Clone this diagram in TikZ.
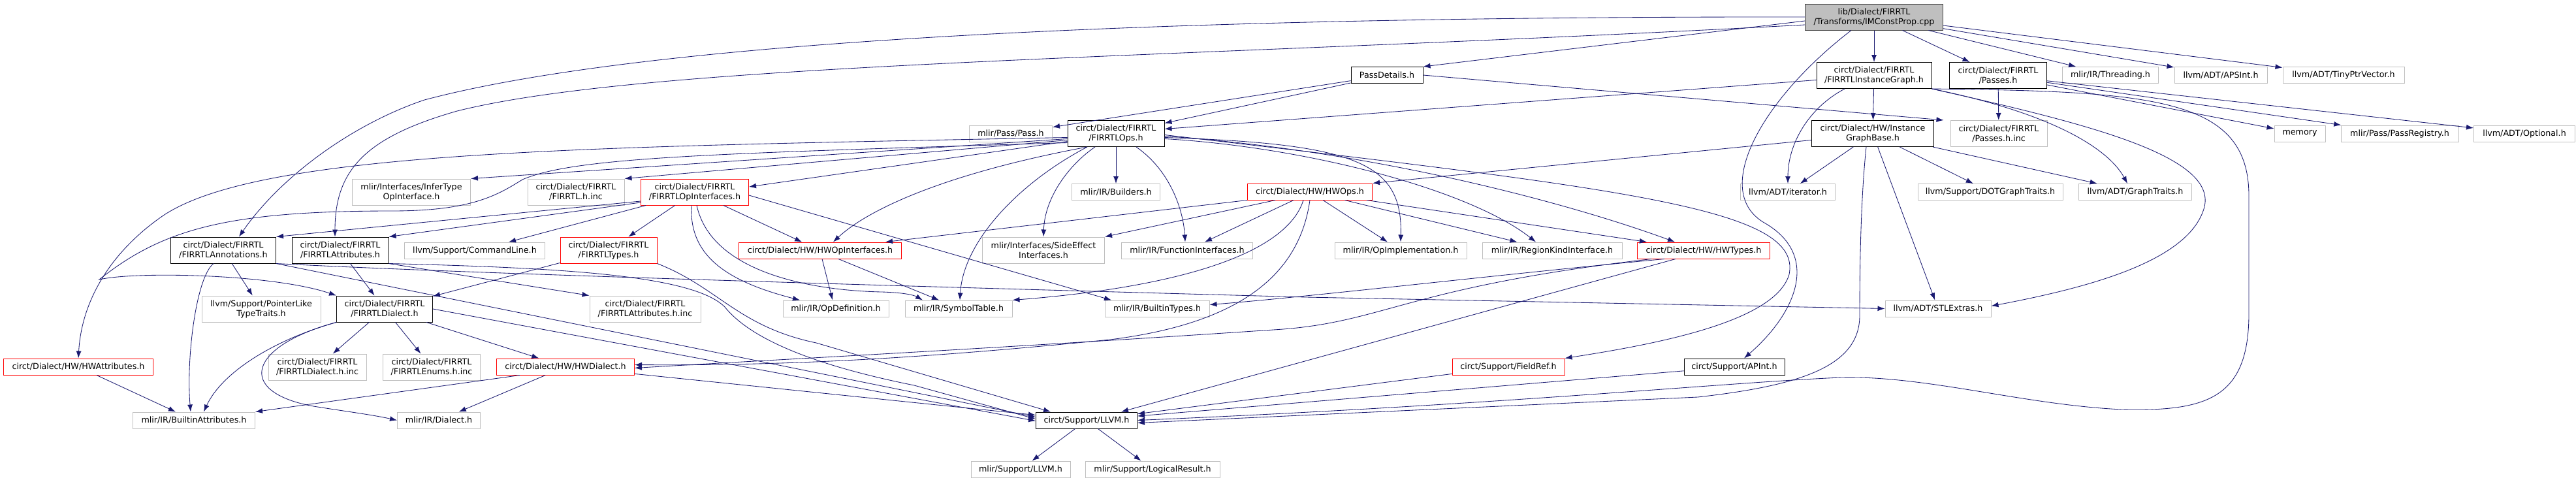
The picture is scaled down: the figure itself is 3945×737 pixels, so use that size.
\documentclass[tikz,border=0pt]{standalone}
\usepackage{fontspec}
\setmainfont{DejaVu Sans}
\usetikzlibrary{arrows.meta}
\definecolor{edgeblue}{HTML}{191970}
\definecolor{extgray}{HTML}{BFBFBF}
\definecolor{rootgray}{HTML}{404040}
\definecolor{truncred}{HTML}{FF0000}
\newcommand{\graphfont}{\fontsize{12.7}{15}\selectfont}
\tikzset{
  filebox/.style={draw, rectangle, inner sep=0pt, align=center, line width=1pt, font=\graphfont, minimum height=25pt},
  twolines/.style={minimum height=40pt},
  extbox/.style={filebox, draw=extgray},
  docbox/.style={filebox, draw=black},
  redbox/.style={filebox, draw=truncred},
  rootbox/.style={filebox, draw=rootgray, fill=extgray},
  dep/.style={-{Latex[length=11pt,width=8pt]}, draw=edgeblue, line width=0.85pt},
}
\begin{document}
\begin{tikzpicture}[x=1pt,y=-1pt]
\useasboundingbox (0,0) rectangle (3945,737);

\node[rootbox,twolines,minimum width=211pt] (root) at (2870,26) {lib/Dialect/FIRRTL\\/Transforms/IMConstProp.cpp};

\node[docbox,minimum width=110pt] (passdetails) at (2124,115) {PassDetails.h};
\node[docbox,twolines,minimum width=176pt] (igraph) at (2870,115.5) {circt/Dialect/FIRRTL\\/FIRRTLInstanceGraph.h};
\node[docbox,twolines,minimum width=149pt] (passes) at (3060,115.5) {circt/Dialect/FIRRTL\\/Passes.h};
\node[extbox,minimum width=147pt] (threading) at (3232,115) {mlir/IR/Threading.h};
\node[extbox,minimum width=142pt] (apsint) at (3401,115) {llvm/ADT/APSInt.h};
\node[extbox,minimum width=186pt] (tinyptr) at (3589,115) {llvm/ADT/TinyPtrVector.h};

\node[extbox,minimum width=127pt] (passh) at (1548,204.5) {mlir/Pass/Pass.h};
\node[docbox,twolines,minimum width=148pt] (ops) at (1709,204.5) {circt/Dialect/FIRRTL\\/FIRRTLOps.h};
\node[docbox,twolines,minimum width=187pt] (igbase) at (2868,204.5) {circt/Dialect/HW/Instance\\GraphBase.h};
\node[extbox,twolines,minimum width=148pt] (passesinc) at (3061,204.5) {circt/Dialect/FIRRTL\\/Passes.h.inc};
\node[extbox,minimum width=78pt] (memory) at (3522,204.5) {memory};
\node[extbox,minimum width=180pt] (passreg) at (3675,204.5) {mlir/Pass/PassRegistry.h};
\node[extbox,minimum width=155pt] (optional) at (3866,204.5) {llvm/ADT/Optional.h};

\node[extbox,twolines,minimum width=181pt] (infertype) at (630,294) {mlir/Interfaces/InferType\\OpInterface.h};
\node[extbox,twolines,minimum width=148pt] (firrtlinc) at (882,294) {circt/Dialect/FIRRTL\\/FIRRTL.h.inc};
\node[redbox,twolines,minimum width=165pt] (opifaces) at (1064,294) {circt/Dialect/FIRRTL\\/FIRRTLOpInterfaces.h};
\node[extbox,minimum width=135pt] (builders) at (1709,294) {mlir/IR/Builders.h};
\node[redbox,minimum width=191pt] (hwops) at (2006,293.5) {circt/Dialect/HW/HWOps.h};
\node[extbox,minimum width=145pt] (iterator) at (2738,294) {llvm/ADT/iterator.h};
\node[extbox,minimum width=222pt] (dotgraph) at (3048,294) {llvm/Support/DOTGraphTraits.h};
\node[extbox,minimum width=173pt] (graphtraits) at (3270,294) {llvm/ADT/GraphTraits.h};

\node[docbox,twolines,minimum width=161pt] (annotations) at (342,383) {circt/Dialect/FIRRTL\\/FIRRTLAnnotations.h};
\node[docbox,twolines,minimum width=148pt] (attributes) at (521,383) {circt/Dialect/FIRRTL\\/FIRRTLAttributes.h};
\node[extbox,minimum width=215pt] (cmdline) at (727,383.5) {llvm/Support/CommandLine.h};
\node[redbox,twolines,minimum width=148pt] (types) at (932,383) {circt/Dialect/FIRRTL\\/FIRRTLTypes.h};
\node[redbox,minimum width=249pt] (hwopifaces) at (1256,383.5) {circt/Dialect/HW/HWOpInterfaces.h};
\node[extbox,twolines,minimum width=187pt] (sideeffect) at (1598,383) {mlir/Interfaces/SideEffect\\Interfaces.h};
\node[extbox,minimum width=201pt] (funcifaces) at (1818,383.5) {mlir/IR/FunctionInterfaces.h};
\node[extbox,minimum width=202pt] (opimpl) at (2145,383.5) {mlir/IR/OpImplementation.h};
\node[extbox,minimum width=214pt] (regionkind) at (2377,383.5) {mlir/IR/RegionKindInterface.h};
\node[redbox,minimum width=203pt] (hwtypes) at (2609,383.5) {circt/Dialect/HW/HWTypes.h};

\node[extbox,twolines,minimum width=182pt] (pointerlike) at (400,473) {llvm/Support/PointerLike\\TypeTraits.h};
\node[docbox,twolines,minimum width=147pt] (dialect) at (589,473) {circt/Dialect/FIRRTL\\/FIRRTLDialect.h};
\node[extbox,twolines,minimum width=170pt] (attrinc) at (988,473) {circt/Dialect/FIRRTL\\/FIRRTLAttributes.h.inc};
\node[extbox,minimum width=162pt] (opdef) at (1280,472.5) {mlir/IR/OpDefinition.h};
\node[extbox,minimum width=164pt] (symtab) at (1468,472.5) {mlir/IR/SymbolTable.h};
\node[extbox,minimum width=160pt] (builtintypes) at (1772,472.5) {mlir/IR/BuiltinTypes.h};
\node[extbox,minimum width=162pt] (stlextras) at (2968,472.5) {llvm/ADT/STLExtras.h};

\node[redbox,minimum width=229pt] (hwattrs) at (120,561.5) {circt/Dialect/HW/HWAttributes.h};
\node[extbox,twolines,minimum width=150pt] (dialectinc) at (486,562) {circt/Dialect/FIRRTL\\/FIRRTLDialect.h.inc};
\node[extbox,twolines,minimum width=149pt] (enumsinc) at (661,562) {circt/Dialect/FIRRTL\\/FIRRTLEnums.h.inc};
\node[redbox,minimum width=211pt] (hwdialect) at (866,561.5) {circt/Dialect/HW/HWDialect.h};
\node[redbox,minimum width=172pt] (fieldref) at (2310,561.5) {circt/Support/FieldRef.h};
\node[docbox,minimum width=154pt] (apint) at (2656,561.5) {circt/Support/APInt.h};

\node[extbox,minimum width=187pt] (builtinattrs) at (297,643.5) {mlir/IR/BuiltinAttributes.h};
\node[extbox,minimum width=127pt] (mlirdialect) at (672,643.5) {mlir/IR/Dialect.h};
\node[docbox,minimum width=155pt] (llvmh) at (1664,643.5) {circt/Support/LLVM.h};

\node[extbox,minimum width=152pt] (mlirllvm) at (1563,718.5) {mlir/Support/LLVM.h};
\node[extbox,minimum width=206pt] (logical) at (1765,718.5) {mlir/Support/LogicalResult.h};

\draw[dep] ([yshift=-6pt]root.west) -- (passdetails.north east);
\draw[dep] (root) -- (igraph);
\draw[dep] (root) -- (passes);
\draw[dep] (root) -- (threading);
\draw[dep] (root) -- (apsint);
\draw[dep] (root) -- (tinyptr);
\draw[dep] (root.west) .. controls (1800,25) and (1000,60) .. (650,153) .. controls (540,190) and (430,270) .. ([xshift=24pt]annotations.north);
\draw[dep] ([yshift=-12pt]root.west) .. controls (1800,90) and (1000,95) .. (700,170) .. controls (560,210) and (513,260) .. ([xshift=-8pt]attributes.north);
\draw[dep] ([xshift=-35pt]root.south) .. controls (2700,150) and (2620,290) .. (2700,340) .. controls (2790,390) and (2750,480) .. ([xshift=15pt]apint.north);

\draw[dep] (passdetails) -- (ops);
\draw[dep] (passdetails) -- (passh);
\draw[dep] (passdetails.east) -- ([xshift=-10pt]passesinc.north west);

\draw[dep] ([yshift=-7pt]igraph.west) -- ([yshift=7pt]ops.east);
\draw[dep] (igraph) -- (igbase);
\draw[dep] ([xshift=-45pt]igraph.south) .. controls (2770,165) and (2738,220) .. (iterator.north);
\draw[dep] (igraph.south east) .. controls (3150,175) and (3230,230) .. ([xshift=-12pt]graphtraits.north);
\draw[dep] (igraph.south east) .. controls (3200,190) and (3400,240) .. (3375,320) .. controls (3350,400) and (3200,440) .. ([yshift=4pt]stlextras.east);
\draw[dep] (igraph.south east) .. controls (3300,140) and (3444,150) .. (3444,300) -- (3444,480) .. controls (3444,610) and (3380,630) .. (3250,627) .. controls (3100,620) and (2950,575) .. (2820,578) .. controls (2650,585) and (2300,620) .. (llvmh.east);

\draw[dep] ([yshift=-10pt]igbase.west) -- (hwops.north east);
\draw[dep] (igbase) -- (iterator);
\draw[dep] (igbase) -- (dotgraph);
\draw[dep] (igbase) -- (graphtraits);
\draw[dep] (igbase) -- (stlextras);
\draw[dep] ([xshift=-10pt]igbase.south) .. controls (2850,300) and (2848,400) .. (2848,483) .. controls (2848,560) and (2760,590) .. (2600,608) -- ([yshift=-4pt]llvmh.east);

\draw[dep] (passes) -- (passesinc);
\draw[dep] (passes) -- (memory);
\draw[dep] (passes) -- (passreg);
\draw[dep] (passes) -- (optional);

\draw[dep] (ops) -- (builders);
\draw[dep] ([xshift=-32pt]ops.south) .. controls (1640,250) and (1600,300) .. (sideeffect.north);
\draw[dep] ([xshift=31pt]ops.south) .. controls (1791,260) and (1812,320) .. ([xshift=-3pt]funcifaces.north);
\draw[dep] ([xshift=-44pt]ops.south) .. controls (1560,280) and (1475,370) .. ([xshift=2pt]symtab.north);
\draw[dep] ([xshift=-44pt]ops.south) .. controls (1450,265) and (1330,320) .. ([xshift=20pt]hwopifaces.north);
\draw[dep] ([yshift=-12pt]ops.west) -- ([yshift=8pt]opifaces.east);
\draw[dep] ([yshift=-10pt]ops.west) -- (firrtlinc.north east);
\draw[dep] ([yshift=-8pt]ops.west) -- (infertype.north east);
\draw[dep] ([yshift=-6pt]ops.west) .. controls (900,225) and (400,230) .. (250,330) .. controls (170,385) and (125,460) .. (hwattrs.north);
\draw[dep] ([yshift=-14pt]ops.west) .. controls (1100,235) and (880,240) .. (800,275) .. controls (760,300) and (720,323) .. (600,323) .. controls (350,323) and (250,350) .. (152,428) .. controls (210,415) and (420,420) .. (dialect.north west);
\draw[dep] ([yshift=-6pt]ops.east) .. controls (2080,220) and (2148,250) .. (opimpl.north);
\draw[dep] ([yshift=-8pt]ops.east) .. controls (2000,225) and (2250,290) .. ([xshift=-25pt]regionkind.north);
\draw[dep] ([yshift=-4pt]ops.east) .. controls (2100,230) and (2400,310) .. ([xshift=-44pt]hwtypes.north);
\draw[dep] ([yshift=-2pt]ops.east) .. controls (2500,290) and (2760,320) .. (2740,420) .. controls (2720,490) and (2550,525) .. (fieldref.north east);

\draw[dep] ([yshift=-14pt]opifaces.west) -- (annotations.north east);
\draw[dep] ([yshift=-16pt]opifaces.west) -- (attributes.north east);
\draw[dep] ([xshift=-75pt]opifaces.south) -- ([xshift=52pt]cmdline.north);
\draw[dep] (opifaces) -- (types);
\draw[dep] ([xshift=-5pt]opifaces.south) .. controls (1055,390) and (1110,430) .. ([xshift=-55pt]opdef.north);
\draw[dep] ([xshift=3pt]opifaces.south) .. controls (1090,420) and (1250,445) .. (1350,447) .. controls (1385,448) and (1400,452) .. ([xshift=-55pt]symtab.north);
\draw[dep] (opifaces) -- (hwopifaces);
\draw[dep] ([yshift=-5pt]opifaces.east) -- ([xshift=-70pt]builtintypes.north);

\draw[dep] (types) -- (dialect);
\draw[dep] (types.south east) .. controls (1100,440) and (1130,500) .. (1250,525) -- ([xshift=-55pt]llvmh.north);

\draw[dep] ([xshift=-15pt]annotations.south) .. controls (300,425) and (285,550) .. ([xshift=-5pt]builtinattrs.north);
\draw[dep] (annotations) -- (pointerlike);
\draw[dep] (annotations.south east) .. controls (700,418) and (1300,436) .. (2000,455) -- (stlextras.west);
\draw[dep] (annotations.south east) -- ([yshift=5pt]llvmh.west);

\draw[dep] (attributes) -- (dialect);
\draw[dep] (attributes.south east) -- (attrinc.north west);
\draw[dep] (attributes.south east) .. controls (850,410) and (1060,420) .. (1110,470) .. controls (1150,520) and (1250,560) .. (1400,590) -- ([yshift=2pt]llvmh.west);

\draw[dep] (dialect.south west) .. controls (420,520) and (340,570) .. ([xshift=15pt]builtinattrs.north);
\draw[dep] (dialect.south west) .. controls (380,530) and (360,600) .. (480,622) .. controls (530,630) and (570,635) .. (mlirdialect.west);
\draw[dep] (dialect) -- (dialectinc);
\draw[dep] (dialect) -- (enumsinc);
\draw[dep] (dialect) -- (hwdialect);
\draw[dep] (dialect.east) -- ([yshift=-1pt]llvmh.west);

\draw[dep] ([xshift=-70pt]hwdialect.south) -- (builtinattrs.north east);
\draw[dep] (hwdialect) -- (mlirdialect);
\draw[dep] (hwdialect) -- (llvmh);

\draw[dep] (hwattrs) -- (builtinattrs);

\draw[dep] ([xshift=3pt]hwopifaces.south) -- ([xshift=-5pt]opdef.north);
\draw[dep] ([xshift=28pt]hwopifaces.south) -- ([xshift=-30pt]symtab.north);

\draw[dep] (hwops.south west) -- ([xshift=-25pt]hwopifaces.north east);
\draw[dep] ([xshift=-53pt]hwops.south) -- (sideeffect.north east);
\draw[dep] ([xshift=-25pt]hwops.south) -- ([xshift=27pt]funcifaces.north);
\draw[dep] (hwops) -- (opimpl);
\draw[dep] (hwops) -- (regionkind);
\draw[dep] (hwops) -- (hwtypes);
\draw[dep] ([xshift=-10pt]hwops.south) .. controls (1970,390) and (1800,440) .. (symtab.north east);
\draw[dep] (hwops.south) .. controls (1990,420) and (1900,495) .. (1700,520) .. controls (1400,550) and (1200,560) .. ([yshift=3pt]hwdialect.east);

\draw[dep] ([xshift=-60pt]hwtypes.south) .. controls (2300,420) and (2000,455) .. ([yshift=6pt]builtintypes.east);
\draw[dep] ([xshift=-80pt]hwtypes.south) .. controls (2150,440) and (2120,495) .. (1950,505) .. controls (1500,535) and (1200,550) .. ([yshift=-2pt]hwdialect.east);
\draw[dep] ([xshift=-43pt]hwtypes.south) -- ([xshift=-25pt]llvmh.north east);

\draw[dep] (fieldref) -- (llvmh);
\draw[dep] (apint) -- (llvmh);

\draw[dep] (llvmh) -- (mlirllvm);
\draw[dep] (llvmh) -- (logical);
\end{tikzpicture}
\end{document}
